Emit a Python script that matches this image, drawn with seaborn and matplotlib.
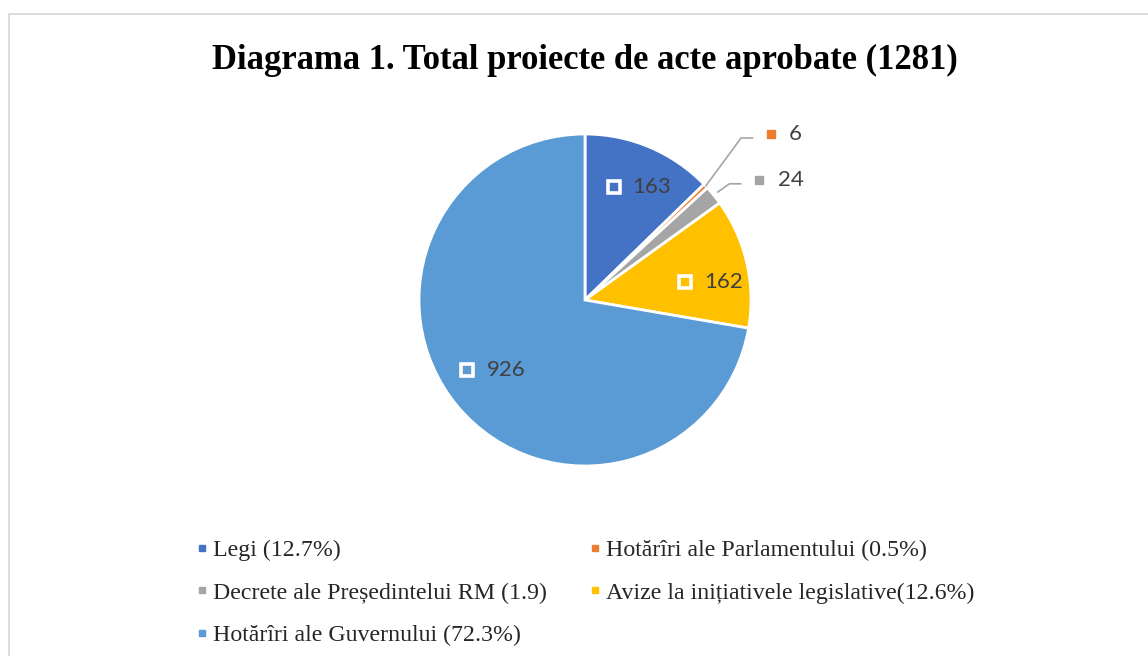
import numpy as np
import seaborn as sns
import matplotlib.pyplot as plt
from matplotlib.lines import Line2D
from matplotlib.patches import Rectangle

# data
labels = ["Legi (12.7%)", "Hotărîri ale Parlamentului (0.5%)",
          "Decrete ale Președintelui RM (1.9)",
          "Avize la inițiativele legislative(12.6%)",
          "Hotărîri ale Guvernului (72.3%)"]
values = [163, 6, 24, 162, 926]
colors = ["#4472C4", "#ED7D31", "#A5A5A5", "#FFC000", "#5B9BD5"]
title = "Diagrama 1. Total proiecte de acte aprobate (1281)"

sns.set_theme(style="white")
plt.rcParams['font.family'] = ['Liberation Serif', 'DejaVu Serif']

W, H = 1148, 656
fig = plt.figure(figsize=(W / 100, H / 100), dpi=100)

# outer frame
fig.patches.append(Rectangle((8.5 / W, -0.1), 1.2, (H - 13.5) / H + 0.1,
                             transform=fig.transFigure, fill=False,
                             edgecolor="#D9D9D9", linewidth=1.3))

cx, cy, r = 585, H - 300, 166
ax = fig.add_axes([(cx - 2 * r) / W, (cy - 1.5 * r) / H, 4 * r / W, 3 * r / H])
wedges, _ = ax.pie(values, colors=colors, startangle=90, counterclock=False,
                   wedgeprops=dict(edgecolor="white", linewidth=2))
ax.set_xlim(-2, 2)
ax.set_ylim(-1.5, 1.5)
ax.axis("off")

lab_font = dict(family="Lato", fontsize=16, color="#404040")

def mid(w):
    a = np.deg2rad((w.theta1 + w.theta2) / 2)
    return np.cos(a), np.sin(a)

# inside labels (label box centred near the slice middle)
nudge = {0: (0.03, -0.01), 3: (0.02, -0.06), 4: (0.015, 0.06)}
for i, (nx, ny) in nudge.items():
    x, y = mid(wedges[i])
    tx, ty = x * 0.75 + nx, y * 0.75 + ny
    ax.text(tx - 0.035, ty, str(values[i]), ha="left", va="center", **lab_font)
    ax.plot(tx - 0.15, ty, marker="s", markersize=8.5, markerfacecolor=colors[i],
            markeredgecolor="white", markeredgewidth=2.6, linestyle="none")

# outside labels with leader lines: start radius, elbow, line end x, label pos
outside = {1: (1.0, (0.94, 0.976), 1.01, (1.12, 1.0)),
           2: (1.03, (0.87, 0.70), 0.94, (1.05, 0.72))}
for i, (rs, (ex, ey), endx, (lx, ly)) in outside.items():
    x, y = mid(wedges[i])
    ax.plot([x * rs, ex, endx], [y * rs, ey, ey], color="#A6A6A6", linewidth=1.2)
    ax.plot(lx, ly, marker="s", markersize=6, color=colors[i], linestyle="none")
    ax.text(lx + 0.11, ly, str(values[i]), ha="left", va="center", **lab_font)

fig.text(585 / W, 1 - 60 / H, title, ha="center", va="center",
         fontsize=24.9, fontweight="bold", color="black")

order = [0, 2, 4, 1, 3]
handles = [Line2D([], [], marker="s", markersize=4.5, color=colors[i],
                  linestyle="none") for i in order]
fig.legend(handles, [labels[i] for i in order], ncol=2, frameon=False,
           loc="upper left", bbox_to_anchor=(175 / W, 1 - 518 / H),
           fontsize=17.2, handlelength=0.5, handletextpad=0.2,
           columnspacing=1.75, labelspacing=0.87)

fig.savefig("out.png", dpi=100)
